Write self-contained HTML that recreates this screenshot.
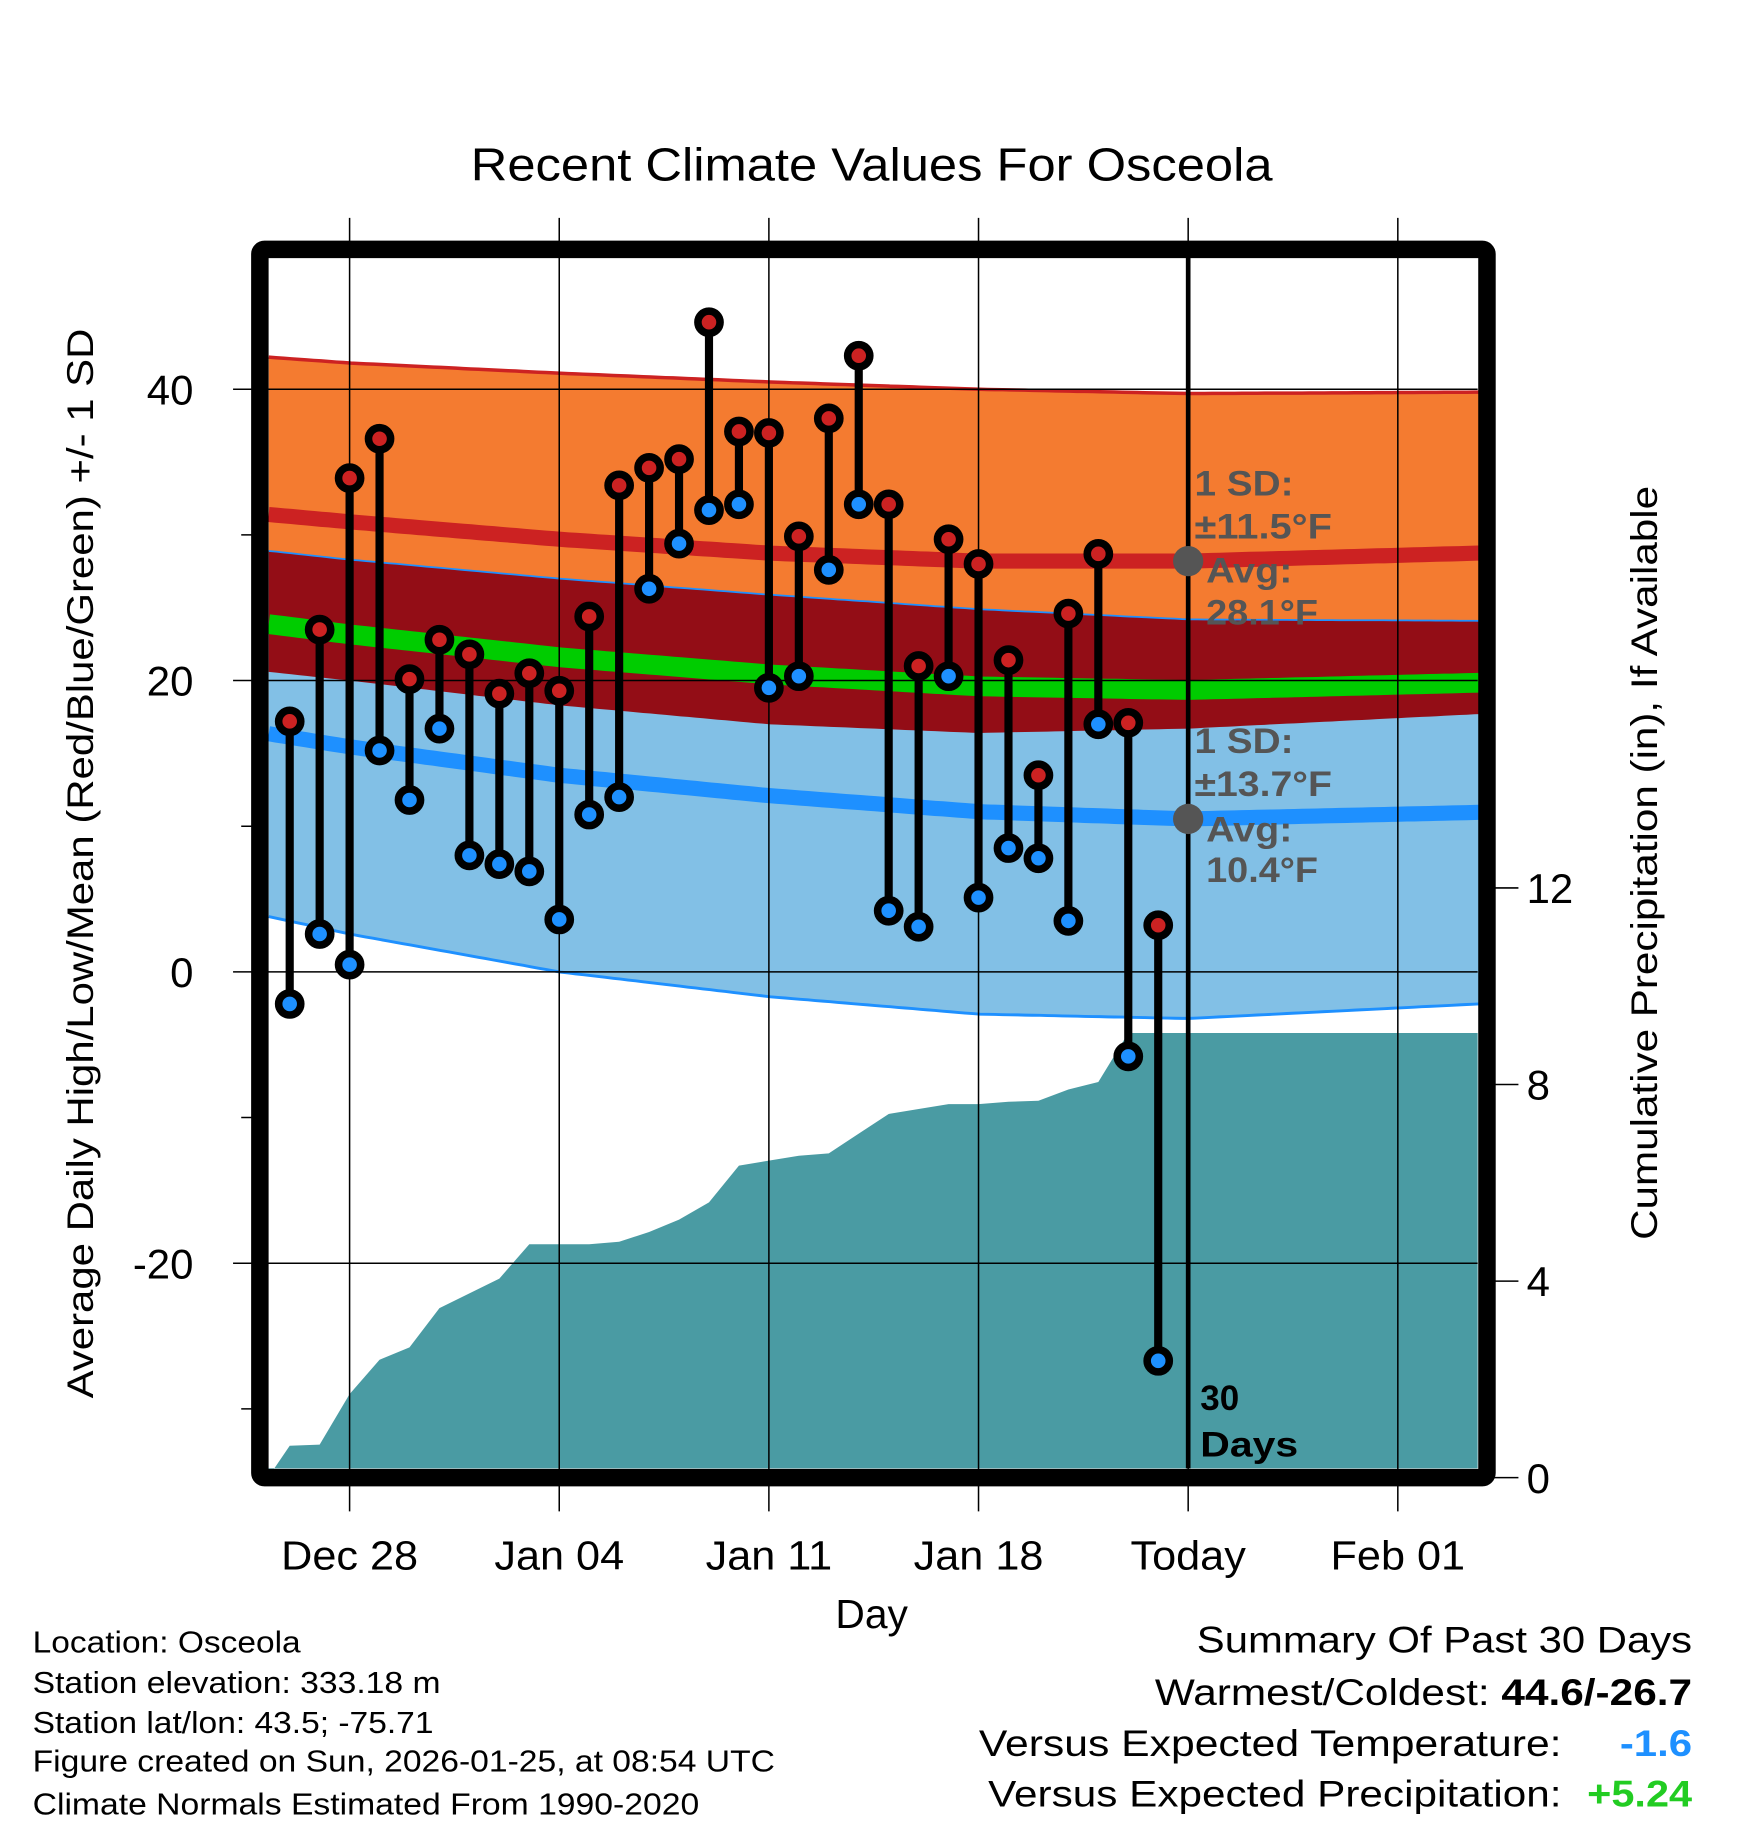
<!DOCTYPE html>
<html><head><meta charset="utf-8"><style>
html,body{margin:0;padding:0;background:#fff}
svg{display:block}
text{font-family:"Liberation Sans",sans-serif}
</style></head><body>
<svg id="chart" xmlns="http://www.w3.org/2000/svg" width="1748" height="1828" viewBox="0 0 1500 1568.65">
<g id="bg"></g>
<g id="marks"></g>
<g id="frame"></g>
<g id="labels"></g>
</svg>
<script>
// ---- data ----
const dayOffsets = [-2,-1,0,1,2,3,4,5,6,7,8,9,10,11,12,13,14,15,16,17,18,19,20,21,22,23,24,25,26,27];
const highs = [17.2,23.5,33.9,36.6,20.1,22.8,21.8,19.1,20.5,19.3,24.4,33.4,34.6,35.2,44.6,37.1,37.0,29.9,38.0,42.3,32.1,21.0,29.7,28.0,21.4,13.5,24.6,28.7,17.1,3.2];
const lows = [-2.2,2.6,0.5,15.2,11.8,16.7,8.0,7.4,6.9,3.6,10.8,12.0,26.3,29.4,31.7,32.1,19.5,20.3,27.6,32.1,4.2,3.1,20.3,5.1,8.5,7.8,3.5,17.0,-5.8,-26.7];
const precip = [0.65,0.67,1.7,2.4,2.65,3.45,3.75,4.05,4.75,4.75,4.75,4.8,5.0,5.25,5.6,6.35,6.45,6.55,6.6,7.0,7.4,7.5,7.6,7.6,7.65,7.67,7.9,8.05,9.05,9.05];
const normDays = [-2.7,0,7,14,21,28,37.7];
const highMean = [31.4,30.9,29.7,28.75,28.2,28.2,28.75];
const highSD = [10.8,10.9,11.4,11.75,11.8,11.5,11.05];
const lowMean = [16.35,15.45,13.5,12.1,11.0,10.5,10.95];
const lowSD = [12.55,12.85,13.5,13.8,13.9,13.7,13.15];
const leftTicks = [40,20,0,-20];
const rightTicks = [0,4,8,12];
const xTickDays = [0,7,14,21,28,35];
const xTickLabels = ["Dec 28","Jan 04","Jan 11","Jan 18","Today","Feb 01"];

// ---- axes ----
const X0=230,X1=1268,Y0=221,Y1=1260;
const xd = d => 300 + 25.7*d;
const yT = v => 834 - 12.5*v;
const yP = p => 1268 - 42.17*p;
const NS="http://www.w3.org/2000/svg";
function mk(parent,tag,attrs,txt){const e=document.createElementNS(NS,tag);for(const k in attrs)e.setAttribute(k,attrs[k]);if(txt!==undefined)e.textContent=txt;document.getElementById(parent).appendChild(e);return e;}

function interp(arr,d){for(let i=0;i<normDays.length-1;i++){if(d<=normDays[i+1]){const t=(d-normDays[i])/(normDays[i+1]-normDays[i]);return arr[i]+(arr[i+1]-arr[i])*t;}}return arr[arr.length-1];}
const grid=[];for(let d=normDays[0];d<=normDays[normDays.length-1]+0.001;d+=0.25)grid.push(Math.min(d,normDays[normDays.length-1]));
grid.push(normDays[normDays.length-1]);
const pts=f=>grid.map(d=>xd(d).toFixed(1)+","+yT(f(d)).toFixed(1));
const hiTop=d=>interp(highMean,d)+interp(highSD,d), hiBot=d=>interp(highMean,d)-interp(highSD,d);
const loTop=d=>interp(lowMean,d)+interp(lowSD,d), loBot=d=>interp(lowMean,d)-interp(lowSD,d);
const band=(a,b)=>pts(a).concat(pts(b).reverse()).join(" ");

let e;
e=mk("bg","polygon",{points:band(hiTop,hiBot),fill:"#f47b30"});


e=mk("bg","polygon",{points:band(loTop,loBot),fill:"#82c0e6"});


e=mk("bg","polygon",{points:band(d=>Math.min(loTop(d),hiTop(d)),hiBot),fill:"#930d16"});


e=mk("bg","polyline",{points:pts(hiTop).join(" "),fill:"none",stroke:"#cc2222",'stroke-width':3});


e=mk("bg","polyline",{points:pts(loTop).join(" "),fill:"none",stroke:"#1e90ff",'stroke-width':1.5});


e=mk("bg","polyline",{points:pts(loBot).join(" "),fill:"none",stroke:"#1e90ff",'stroke-width':2.5});


e=mk("bg","polyline",{points:pts(d=>interp(highMean,d)).join(" "),fill:"none",stroke:"#cc2222",'stroke-width':13});


e=mk("bg","polyline",{points:pts(d=>interp(lowMean,d)).join(" "),fill:"none",stroke:"#1e90ff",'stroke-width':13});


e=mk("bg","polyline",{points:pts(d=>(interp(highMean,d)+interp(lowMean,d))/2).join(" "),fill:"none",stroke:"#00cc00",'stroke-width':17});



let pp=[X0+","+Y1, X0+","+yP(0)];
dayOffsets.forEach((d,i)=>pp.push(xd(d).toFixed(1)+","+yP(precip[i]).toFixed(1)));
pp.push(X1+","+yP(precip[precip.length-1]).toFixed(1));pp.push(X1+","+Y1);
e=mk("bg","polygon",{points:pp.join(" "),fill:"#4a9ba3"});



xTickDays.forEach(d=>{
  e=mk("bg","line",{x1:xd(d),x2:xd(d),y1:187,y2:1297,stroke:"#000",'stroke-width':1.3});
  
  
});
leftTicks.forEach(v=>{
  e=mk("bg","line",{x1:200,x2:X1,y1:yT(v),y2:yT(v),stroke:"#000",'stroke-width':1.3});
  
  
});
[30,10,-10,-30].forEach(v=>{
  e=mk("bg","line",{x1:207,x2:X0,y1:yT(v),y2:yT(v),stroke:"#000",'stroke-width':1.3});
  
  
});
rightTicks.forEach(p=>{
  e=mk("bg","line",{x1:1276,x2:1303,y1:yP(p),y2:yP(p),stroke:"#000",'stroke-width':1.3});
  
  
  e=mk("labels","text",{x:1310,y:yP(p)+13,'font-size':36,fill:"#000"},String(p));
  
  
});

e=mk("marks","line",{x1:xd(28),x2:xd(28),y1:Y0,y2:Y1,stroke:"#000",'stroke-width':4});



dayOffsets.forEach((d,i)=>{
  e=mk("marks","line",{x1:xd(d),x2:xd(d),y1:yT(highs[i]),y2:yT(lows[i]),stroke:"#000",'stroke-width':7});
  
  
});
dayOffsets.forEach((d,i)=>{
  e=mk("marks","circle",{cx:xd(d),cy:yT(lows[i]),r:9.5,fill:"#1e90ff",stroke:"#000",'stroke-width':6.5});
  
  
  e=mk("marks","circle",{cx:xd(d),cy:yT(highs[i]),r:9.5,fill:"#cc2222",stroke:"#000",'stroke-width':6.5});
  
  
});

const todayHi=interp(highMean,28), todayLo=interp(lowMean,28);
e=mk("marks","circle",{cx:xd(28),cy:yT(todayHi),r:13,fill:"#555"});


e=mk("marks","circle",{cx:xd(28),cy:yT(todayLo),r:13,fill:"#555"});



e=mk("frame","rect",{x:223,y:214,width:1053,height:1054,fill:"none",stroke:"#000",'stroke-width':15,rx:4});



leftTicks.forEach(v=>{
  e=mk("labels","text",{x:166,y:yT(v)+13,'font-size':36,'text-anchor':'end',fill:"#000"},String(v));
  
  
});
xTickDays.forEach((d,i)=>{
  e=mk("labels","text",{x:xd(d),y:1347,'font-size':35,'text-anchor':'middle',fill:"#000",transform:`translate(${xd(d)},0) scale(1.06,1) translate(${-xd(d)},0)`},xTickLabels[i]);
  
  
});
</script>
<script>
(function(){
const NS="http://www.w3.org/2000/svg";
const g=document.getElementById("labels");
const L='lengthAdjust="spacingAndGlyphs"';
const html=`
<text x="404" y="155" font-size="40" textLength="688" ${L}>Recent Climate Values For Osceola</text>
<text x="748" y="1397" font-size="35" text-anchor="middle">Day</text>
<text transform="translate(80,741) rotate(-90)" x="-459" y="0" font-size="32" textLength="918" ${L}>Average Daily High/Low/Mean (Red/Blue/Green) +/- 1 SD</text>
<text transform="translate(1422,741) rotate(-90)" x="-323" y="0" font-size="32" textLength="647" ${L}>Cumulative Precipitation (in), If Available</text>
<g font-size="30" font-weight="bold" fill="#555">
<text x="1025" y="425" textLength="85" ${L}>1 SD:</text><text x="1025" y="462" textLength="118" ${L}>±11.5°F</text><text x="1035" y="500" textLength="74" ${L}>Avg:</text><text x="1035" y="536" textLength="96" ${L}>28.1°F</text></g>
<g font-size="30" font-weight="bold" fill="#555">
<text x="1025" y="646" textLength="85" ${L}>1 SD:</text><text x="1025" y="683" textLength="118" ${L}>±13.7°F</text><text x="1035" y="722" textLength="74" ${L}>Avg:</text><text x="1035" y="757" textLength="96" ${L}>10.4°F</text></g>
<g font-size="30" font-weight="bold" fill="#000">
<text x="1030" y="1210">30</text><text x="1030" y="1250" textLength="84" ${L}>Days</text></g>
<g font-size="26" fill="#000">
<text x="28" y="1418" textLength="230" ${L}>Location: Osceola</text>
<text x="28" y="1453" textLength="350" ${L}>Station elevation: 333.18 m</text>
<text x="28" y="1487" textLength="344" ${L}>Station lat/lon: 43.5; -75.71</text>
<text x="28" y="1520" textLength="637" ${L}>Figure created on Sun, 2026-01-25, at 08:54 UTC</text>
<text x="28" y="1557" textLength="572" ${L}>Climate Normals Estimated From 1990-2020</text></g>
<g font-size="32" fill="#000">
<text x="1027" y="1418" textLength="425" ${L}>Summary Of Past 30 Days</text>
<text x="991" y="1463" textLength="461" ${L}>Warmest/Coldest: <tspan font-weight="bold">44.6/-26.7</tspan></text>
<text x="840" y="1507" textLength="500" ${L}>Versus Expected Temperature:</text>
<text x="1390" y="1507" textLength="62" ${L} font-weight="bold" fill="#1e90ff">-1.6</text>
<text x="848" y="1550" textLength="492" ${L}>Versus Expected Precipitation:</text>
<text x="1362" y="1550" textLength="90" ${L} font-weight="bold" fill="#22cc22">+5.24</text></g>`;
const tmp=document.createElementNS(NS,"g");
tmp.innerHTML=html;
while(tmp.firstChild)g.appendChild(tmp.firstChild);
})();
</script>
</body></html>
